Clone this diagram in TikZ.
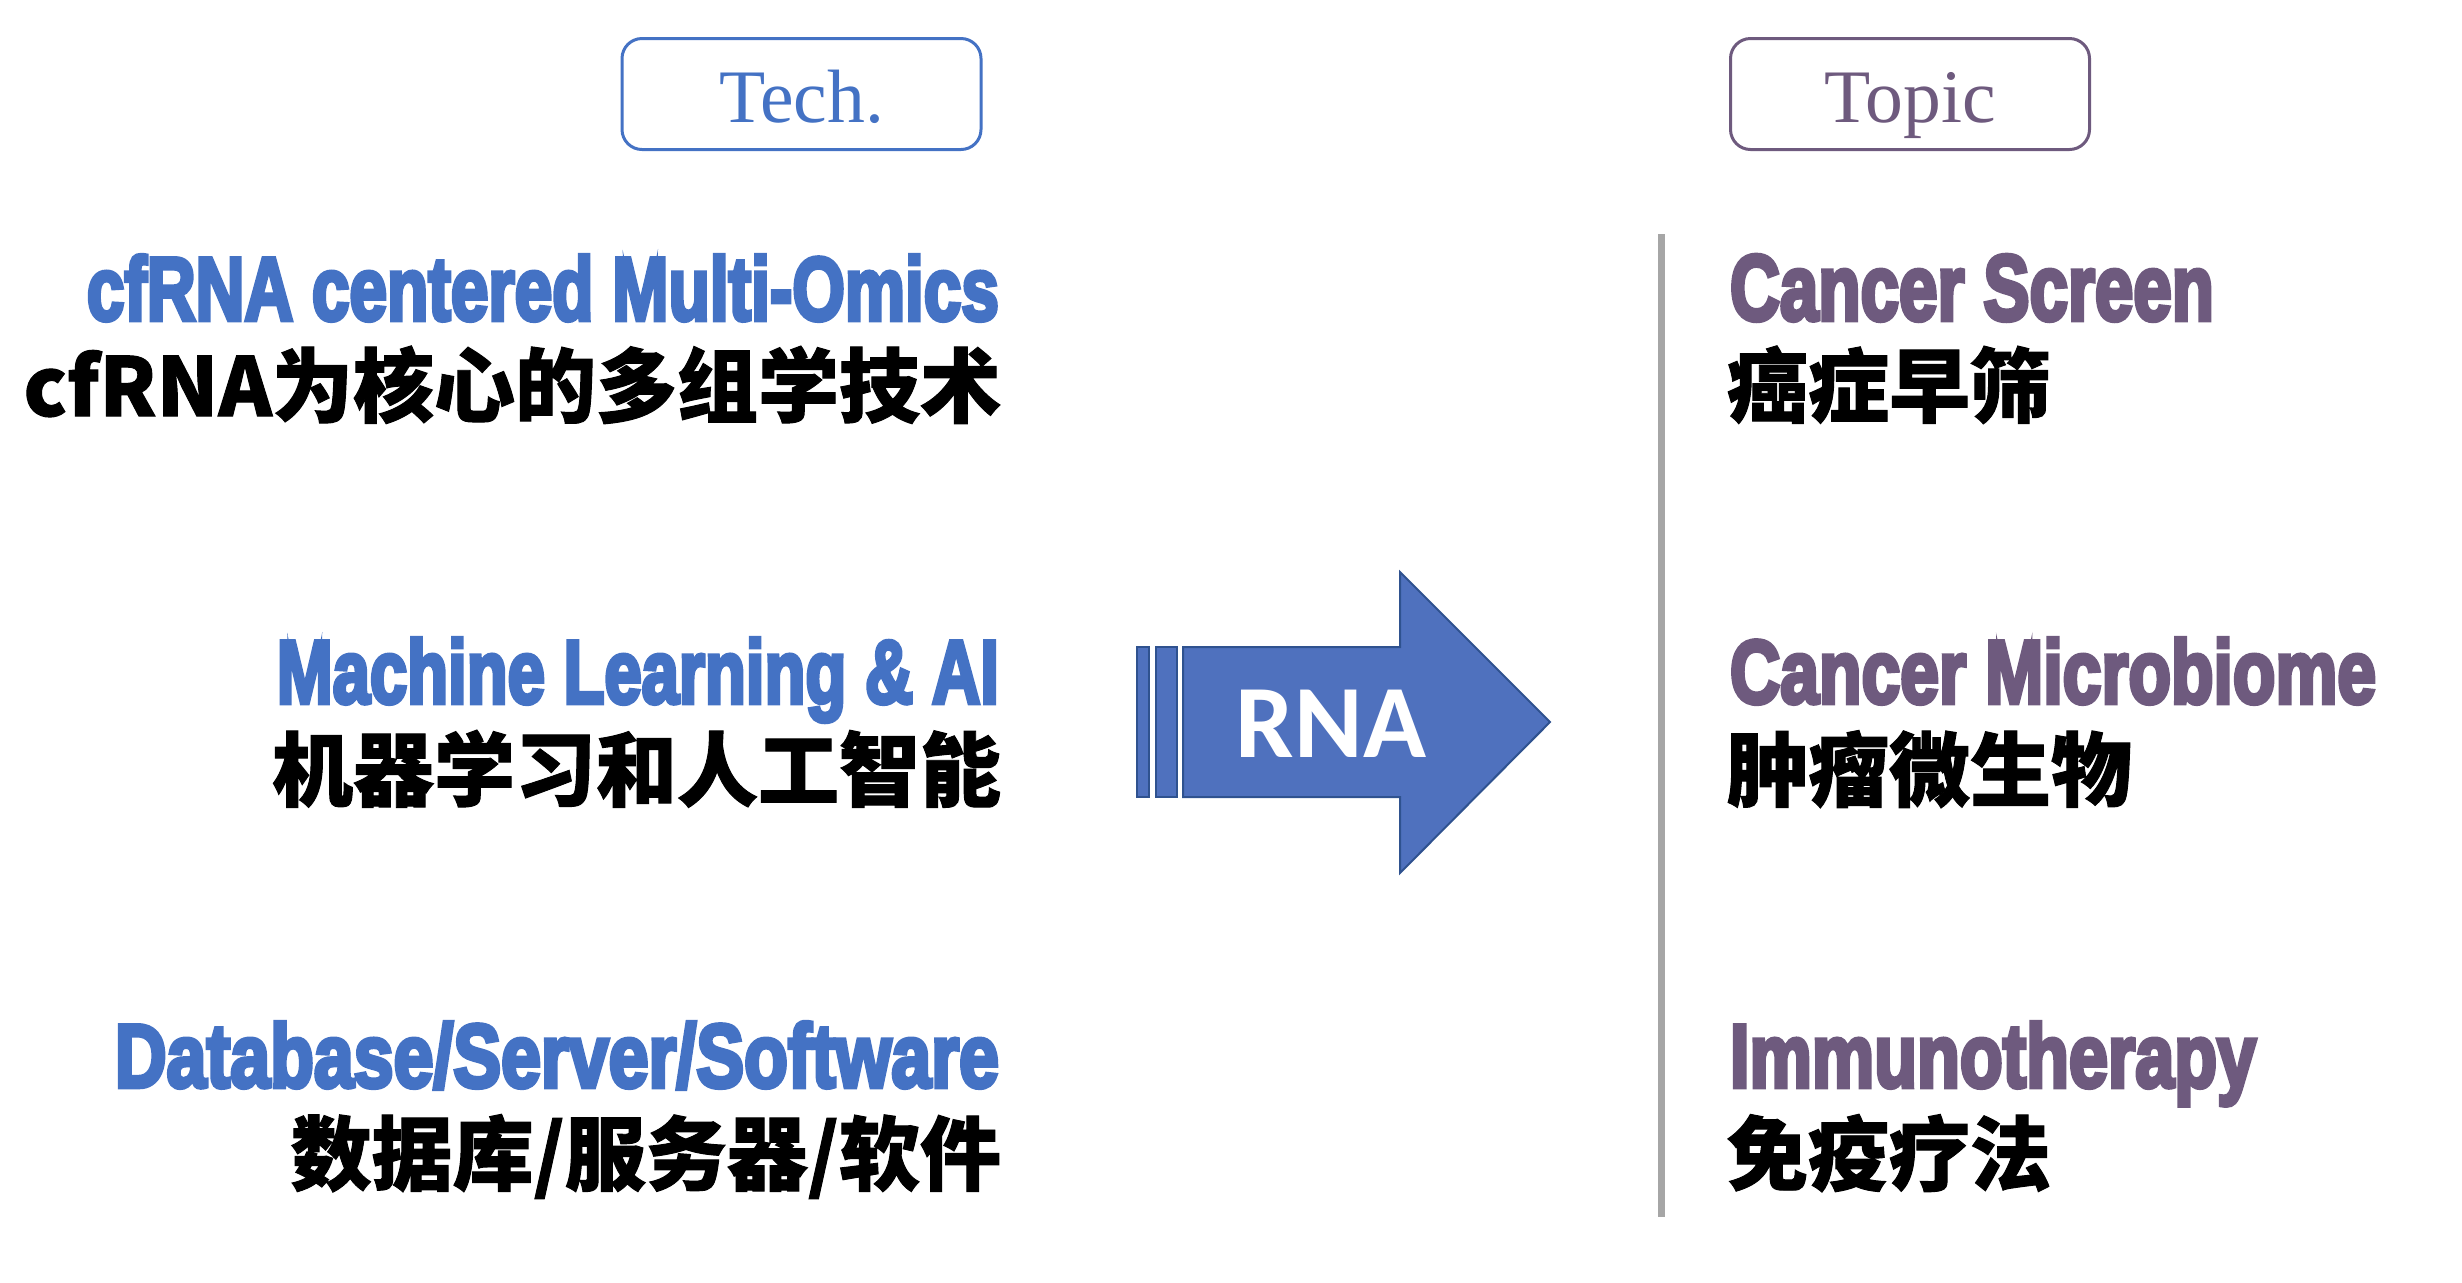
\documentclass[tikz,border=0pt]{standalone}
\usepackage{fontspec}
\usepackage{graphicx}
\setmainfont{Liberation Serif}
\newfontfamily\engfont{Liberation Sans}[BoldFeatures={FakeBold=5}]
\newfontfamily\cjkfont{Noto Sans CJK SC}[BoldFeatures={FakeBold=1.2}]
\newfontfamily\rnafont{Carlito}
\definecolor{techblue}{HTML}{4472C4}
\definecolor{topicpurple}{HTML}{6E5A7E}
\definecolor{arrowfill}{HTML}{4F71BE}
\definecolor{arrowedge}{HTML}{2F528F}
\definecolor{divider}{HTML}{A6A6A6}
\tikzset{
  headbox/.style={draw, rounded corners=10pt, line width=1.5pt, minimum width=179.5pt,
    minimum height=55.5pt, inner sep=0pt, text height=28pt, text depth=0pt,
    font=\fontsize{37.8pt}{40pt}\selectfont},
  engtxt/.style={inner sep=0pt, outer sep=0pt, font=\engfont\bfseries},
  cjktxt/.style={inner sep=0pt, outer sep=0pt, font=\cjkfont\bfseries\fontsize{40.5pt}{44pt}\selectfont},
  arrowpart/.style={fill=arrowfill, draw=arrowedge, line width=1pt, line join=miter},
}
\newcommand{\engline}[2]{\resizebox{#1pt}{32.5pt}{#2}}
\begin{document}
\begin{tikzpicture}[x=0.5pt,y=-0.5pt]
\useasboundingbox (0,0) rectangle (2462,1282);
% header boxes
\node[headbox, draw=techblue, text=techblue] (tech) at (801.5,94) {Tech.};
\node[headbox, draw=topicpurple, text=topicpurple] (topic) at (1910,94) {Topic};
% divider
\coordinate (divtop) at (1661,234);
\coordinate (divbot) at (1661,1217);
\draw[divider, line width=3.5pt] (divtop) -- (divbot);
% left column
\node[engtxt, text=techblue, anchor=base east] (t1e) at (999,320) {\engline{456}{cfRNA centered Multi-Omics}};
\node[cjktxt, anchor=base east] (t1c) at (1001,416) {cfRNA为核心的多组学技术};
\node[engtxt, text=techblue, anchor=base east] (t2e) at (999,703) {\engline{361}{Machine Learning \& AI}};
\node[cjktxt, anchor=base east] (t2c) at (1001,800) {机器学习和人工智能};
\node[engtxt, text=techblue, anchor=base east] (t3e) at (999,1087) {\engline{442}{Database/Server/Software}};
\node[cjktxt, anchor=base east] (t3c) at (1001,1184) {数据库/服务器/软件};
% right column
\node[engtxt, text=topicpurple, anchor=base west] (p1e) at (1730,320) {\engline{242}{Cancer Screen}};
\node[cjktxt, anchor=base west] (p1c) at (1727,416) {癌症早筛};
\node[engtxt, text=topicpurple, anchor=base west] (p2e) at (1730,703) {\engline{323}{Cancer Microbiome}};
\node[cjktxt, anchor=base west] (p2c) at (1727,800) {肿瘤微生物};
\node[engtxt, text=topicpurple, anchor=base west] (p3e) at (1730,1087) {\engline{263}{Immunotherapy}};
\node[cjktxt, anchor=base west] (p3c) at (1727,1184) {免疫疗法};
% RNA arrow
\draw[arrowpart] (1137,647) rectangle (1149,797);
\draw[arrowpart] (1156,647) rectangle (1177,797);
\draw[arrowpart] (1183,647) -- (1400,647) -- (1400,572) -- (1550,722) -- (1400,873) -- (1400,797) -- (1183,797) -- cycle;
\node[inner sep=0pt, anchor=base, text=white, font=\rnafont\bfseries\fontsize{52pt}{56pt}\selectfont] (rna) at (1331,757) {RNA};
\end{tikzpicture}
\end{document}
